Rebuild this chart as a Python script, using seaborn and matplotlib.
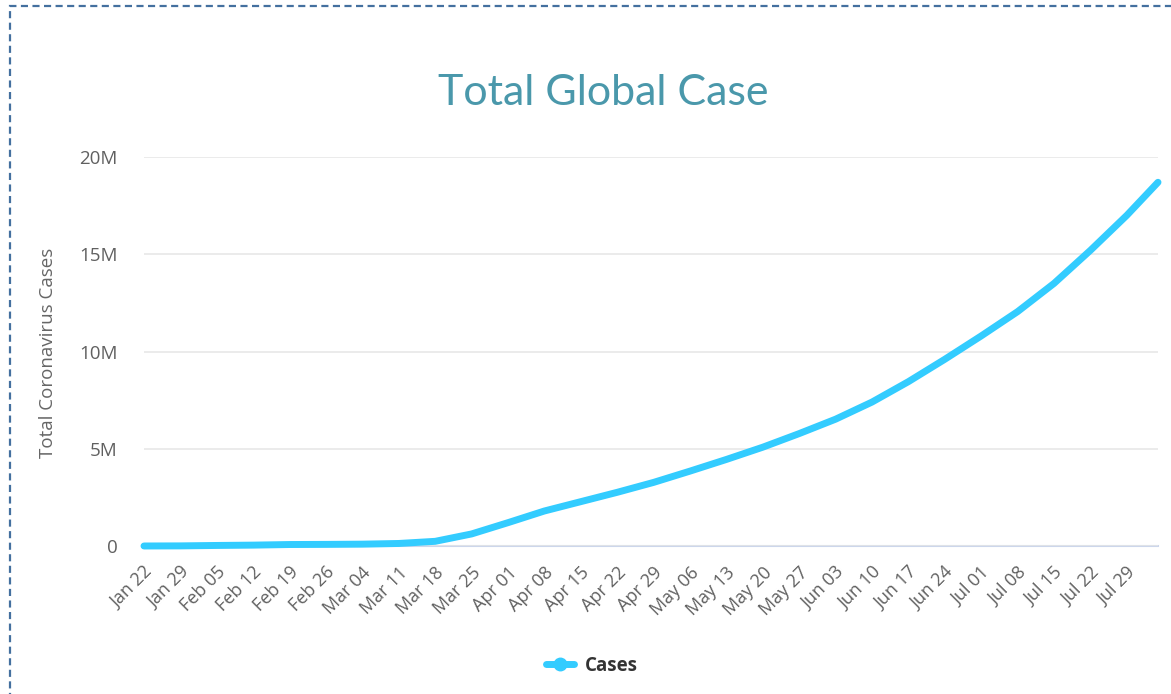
import matplotlib
matplotlib.use("Agg")
import matplotlib.pyplot as plt
import matplotlib.transforms as mtransforms
from matplotlib.patches import Rectangle
from matplotlib.lines import Line2D
import seaborn as sns
import pandas as pd

# ---- data ----
dates = ["2020-01-22", "2020-01-29", "2020-02-05", "2020-02-12", "2020-02-19",
         "2020-02-26", "2020-03-04", "2020-03-11", "2020-03-18", "2020-03-25",
         "2020-04-01", "2020-04-08", "2020-04-15", "2020-04-22", "2020-04-29",
         "2020-05-06", "2020-05-13", "2020-05-20", "2020-05-27", "2020-06-03",
         "2020-06-10", "2020-06-17", "2020-06-24", "2020-07-01", "2020-07-08",
         "2020-07-15", "2020-07-22", "2020-07-29", "2020-08-04"]
cases_millions = [0.0006, 0.006, 0.028, 0.045, 0.076,
                  0.083, 0.095, 0.13, 0.24, 0.62,
                  1.2, 1.8, 2.28, 2.76, 3.27,
                  3.85, 4.45, 5.08, 5.78, 6.52,
                  7.4, 8.45, 9.6, 10.8, 12.05,
                  13.5, 15.2, 17.0, 18.7]
x_tick_dates = dates[:-1]
x_tick_labels = ["Jan 22", "Jan 29", "Feb 05", "Feb 12", "Feb 19", "Feb 26",
                 "Mar 04", "Mar 11", "Mar 18", "Mar 25", "Apr 01", "Apr 08",
                 "Apr 15", "Apr 22", "Apr 29", "May 06", "May 13", "May 20",
                 "May 27", "Jun 03", "Jun 10", "Jun 17", "Jun 24", "Jul 01",
                 "Jul 08", "Jul 15", "Jul 22", "Jul 29"]
y_tick_values = [0, 5_000_000, 10_000_000, 15_000_000, 20_000_000]
y_tick_labels = ["0", "5M", "10M", "15M", "20M"]
series_name = "Cases"
title = "Total Global Case"
y_label = "Total Coronavirus Cases"

df = pd.DataFrame({"date": pd.to_datetime(dates),
                   "cases": [v * 1_000_000 for v in cases_millions]})

# ---- style ----
sns.set_theme(style="white")
plt.rcParams["font.family"] = ["Open Sans", "DejaVu Sans"]

W, H = 1171, 694
fig = plt.figure(figsize=(W / 100, H / 100), dpi=100)
ax = fig.add_axes([144 / W, 1 - 546 / H, (1158 - 144) / W, (546 - 157) / H])

line_color = "#33ccff"
sns.lineplot(data=df, x="date", y="cases", ax=ax, color=line_color,
             linewidth=5.0, legend=False)
for ln in ax.get_lines():
    ln.set_solid_capstyle("round")
    ln.set_solid_joinstyle("round")
    ln.set_clip_on(False)

ax.set_xlim(pd.Timestamp("2020-01-22"), pd.Timestamp("2020-08-04"))
ax.set_ylim(0, 20_000_000)
ax.set_yticks(y_tick_values)
ax.set_yticklabels(y_tick_labels)
ax.set_xticks(pd.to_datetime(x_tick_dates))
ax.set_xticklabels(x_tick_labels)
ax.set_xlabel("")
ax.set_ylabel("")

ax.grid(axis="y", color="#e6e6e6", linewidth=1.1)
ax.grid(axis="x", visible=False)
ax.set_axisbelow(True)
for s in ["top", "right", "left"]:
    ax.spines[s].set_visible(False)
ax.spines["bottom"].set_color("#ccd6eb")
ax.spines["bottom"].set_linewidth(1.5)
ax.spines["bottom"].set_zorder(0.5)

ax.tick_params(axis="y", length=0, pad=19, labelsize=13.5, labelcolor="#606060")
ax.tick_params(axis="x", length=0, pad=17, labelsize=13, labelcolor="#606060")
offset = mtransforms.ScaledTranslation(6 / 100, 0, fig.dpi_scale_trans)
for lab in ax.get_xticklabels():
    lab.set_rotation(45)
    lab.set_ha("right")
    lab.set_va("center")
    lab.set_rotation_mode("anchor")
    lab.set_transform(lab.get_transform() + offset)

# y axis label
fig.text(48 / W, 1 - 353 / H, y_label, rotation=90, ha="center", va="center",
         fontsize=13.5, color="#666666")

# title
fig.text(603 / W, 1 - 105 / H, title, ha="center", va="baseline",
         fontsize=31, color="#4a98ab", family=["Lato", "DejaVu Sans"])

# legend
handle = Line2D([], [], color=line_color, linewidth=5, marker="o",
                markersize=9, markerfacecolor=line_color, markeredgecolor=line_color)
fig.legend(handles=[handle], labels=[series_name], loc="center",
           bbox_to_anchor=(592 / W, 1 - 666 / H), frameon=False,
           handlelength=1.5, handletextpad=0.6,
           prop={"weight": "bold", "size": 13.5}, labelcolor="#333333")

# dashed border (right and bottom edges lie outside the picture)
border = Rectangle((9.5 / W, -0.05), 1.2, 1 - 5.5 / H + 0.05,
                   transform=fig.transFigure, fill=False,
                   edgecolor="#44709f", linewidth=1.6,
                   linestyle=(0, (3.2, 2.0)), clip_on=False)
fig.patches.append(border)

fig.savefig("out.png", dpi=100)
